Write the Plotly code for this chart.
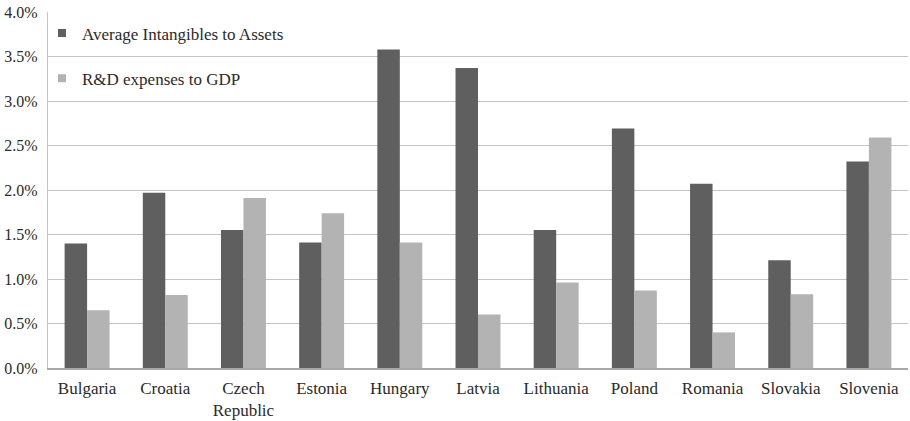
import plotly.graph_objects as go

countries = ["Bulgaria", "Croatia", "Czech<br>Republic", "Estonia", "Hungary", "Latvia",
             "Lithuania", "Poland", "Romania", "Slovakia", "Slovenia"]
intangibles_to_assets = [1.40, 1.97, 1.55, 1.41, 3.58, 3.37, 1.55, 2.69, 2.07, 1.21, 2.32]
rd_expenses_to_gdp = [0.65, 0.82, 1.91, 1.74, 1.41, 0.60, 0.96, 0.87, 0.40, 0.83, 2.59]

y_ticks = [0, 0.5, 1.0, 1.5, 2.0, 2.5, 3.0, 3.5, 4.0]
y_tick_labels = ["0.0%", "0.5%", "1.0%", "1.5%", "2.0%", "2.5%", "3.0%", "3.5%", "4.0%"]

series_names = ["Average Intangibles to Assets", "R&D expenses to GDP"]
series_colors = ["#5f5f5f", "#b3b3b3"]

font_family = "Liberation Serif"

fig = go.Figure()
for name, values, color in zip(series_names, [intangibles_to_assets, rd_expenses_to_gdp], series_colors):
    fig.add_trace(go.Bar(
        x=countries, y=values, name=name, showlegend=False,
        marker=dict(color=color, line=dict(color=color, width=0)),
    ))

# small square legend keys
for i, (name, color) in enumerate(zip(series_names, series_colors)):
    fig.add_trace(go.Scatter(
        x=[None], y=[None], mode="markers", name=name,
        marker=dict(symbol="square", size=8, color=color),
        legendgroup=f"g{i}",
    ))

fig.update_layout(
    width=910, height=421,
    margin=dict(l=48, r=2, t=12, b=53),
    paper_bgcolor="white", plot_bgcolor="white",
    barmode="group", bargap=0.425, bargroupgap=0,
    font=dict(family=font_family, size=16, color="#2a2a2a"),
    showlegend=True,
    legend=dict(
        x=-0.007, y=0.99, xanchor="left", yanchor="top",
        bgcolor="rgba(0,0,0,0)", traceorder="grouped", tracegroupgap=20,
        font=dict(family=font_family, size=17, color="#2a2a2a"),
        itemwidth=30,
    ),
    xaxis=dict(
        showgrid=False, showline=True, linecolor="#a8a8a8", linewidth=1.5,
        ticks="", tickfont=dict(size=17), ticklabelstandoff=4,
    ),
    yaxis=dict(
        range=[0, 4.0], tickvals=y_ticks, ticktext=y_tick_labels,
        showgrid=True, gridcolor="#c4c4c4", gridwidth=1.2,
        showline=True, linecolor="#c4c4c4", linewidth=1.2,
        zeroline=False, ticks="", tickfont=dict(size=16), ticklabelstandoff=6,
    ),
)

fig.write_html("out.html")
